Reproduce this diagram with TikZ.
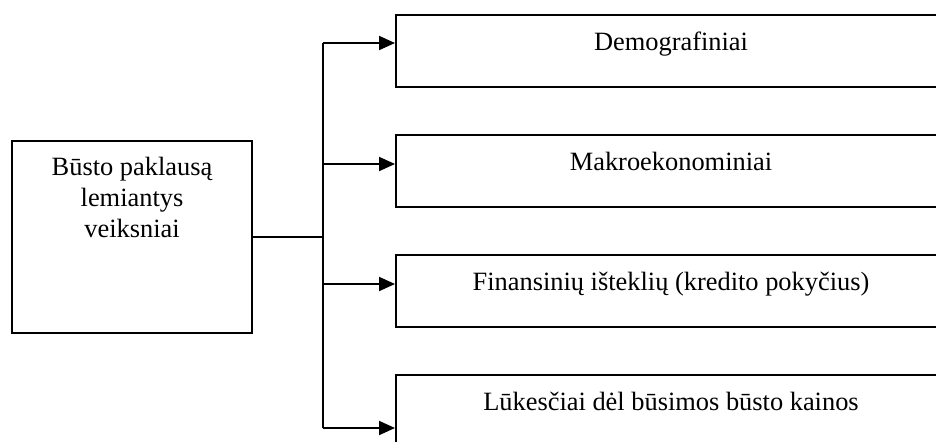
\documentclass[tikz,border=0pt]{standalone}
\usepackage{fontspec}
\setmainfont{Liberation Serif}
\usetikzlibrary{arrows.meta}

\begin{document}
\begin{tikzpicture}[x=0.5pt,y=-0.5pt,
  box/.style={draw,line width=1pt,inner xsep=0pt,inner ysep=0pt,align=center,anchor=north west,
    font=\fontsize{13.2}{15.5}\selectfont},
  factor/.style={box,minimum width=275pt,text height=17.5pt,text depth=18.5pt},
  arr/.style={line width=1pt,-{Triangle[length=8pt,width=7pt]}}]
\useasboundingbox (0,0) rectangle (936,441);
\clip (0,0) rectangle (936,441);
\node[box,minimum width=120pt,text height=48pt,text depth=48pt] (veiksniai) at (11,140) {Būsto paklausą\\lemiantys\\veiksniai};
\node[factor] (demo) at (395,14) {Demografiniai};
\node[factor] (makro) at (395,134) {Makroekonominiai};
\node[factor] (fin) at (395,254) {Finansinių išteklių (kredito pokyčius)};
\node[factor] (lukes) at (395,374) {Lūkesčiai dėl būsimos būsto kainos};
\coordinate (j1) at (323,43);
\coordinate (j2) at (323,164);
\coordinate (j3) at (323,284);
\coordinate (j4) at (323,428);
\draw[line width=1pt] (veiksniai.east) -- (veiksniai.east -| j1);
\draw[line width=1pt] (j1) -- (j4);
\foreach \j/\b in {j1/demo,j2/makro,j3/fin,j4/lukes}
  \draw[arr] (\j) -- (\j -| \b.west);
\end{tikzpicture}
\end{document}
